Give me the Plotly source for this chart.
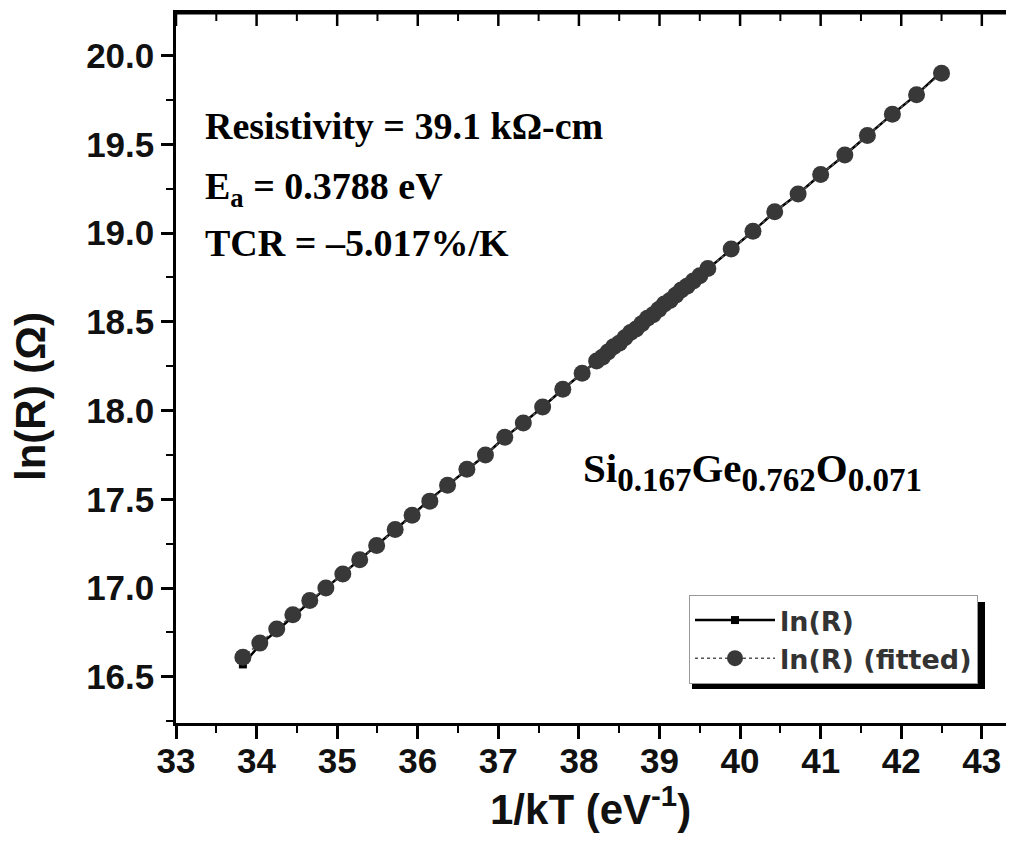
import plotly.graph_objects as go

# 1/kT (eV^-1) values
x_vals = [33.83, 34.04, 34.25, 34.45, 34.66, 34.86, 35.07, 35.28, 35.49, 35.72,
          35.93, 36.15, 36.37, 36.61, 36.84, 37.08, 37.31, 37.55, 37.80, 38.04,
          38.22, 38.29, 38.36, 38.43, 38.50, 38.57, 38.64, 38.71, 38.78, 38.85,
          38.92, 38.99, 39.06, 39.13, 39.20, 39.27, 39.34, 39.42, 39.50,
          39.60, 39.89, 40.16, 40.43, 40.72, 41.00, 41.30, 41.58, 41.89, 42.19, 42.50]

# measured ln(R) (ohm)
ln_r = [16.57, 16.68, 16.76, 16.84, 16.92, 17.00, 17.08, 17.16, 17.24, 17.33,
        17.41, 17.50, 17.58, 17.67, 17.75, 17.85, 17.93, 18.02, 18.12, 18.21,
        18.28, 18.30, 18.33, 18.36, 18.38, 18.41, 18.44, 18.46, 18.49, 18.52,
        18.54, 18.57, 18.60, 18.62, 18.65, 18.68, 18.70, 18.73, 18.76,
        18.80, 18.91, 19.01, 19.12, 19.22, 19.33, 19.44, 19.55, 19.67, 19.78, 19.91]

# fitted ln(R) (ohm)
ln_r_fit = [16.61, 16.69, 16.77, 16.85, 16.93, 17.00, 17.08, 17.16, 17.24, 17.33,
            17.41, 17.49, 17.58, 17.67, 17.75, 17.85, 17.93, 18.02, 18.12, 18.21,
            18.28, 18.30, 18.33, 18.36, 18.38, 18.41, 18.44, 18.46, 18.49, 18.52,
            18.54, 18.57, 18.60, 18.62, 18.65, 18.68, 18.70, 18.73, 18.76,
            18.80, 18.91, 19.01, 19.12, 19.22, 19.33, 19.44, 19.55, 19.67, 19.78, 19.90]

x_ticks = [33, 34, 35, 36, 37, 38, 39, 40, 41, 42, 43]
x_minor_ticks = [33.5, 34.5, 35.5, 36.5, 37.5, 38.5, 39.5, 40.5, 41.5, 42.5]
y_ticks = [16.5, 17.0, 17.5, 18.0, 18.5, 19.0, 19.5, 20.0]
x_range = [33, 43.3]
y_range = [16.24, 20.24]

# page body has an 8px margin: figure is shifted by OFF on screen
OFF = 8
W, H = 998, 832
L, R, T, B = 168, 0, 5, 117
pw, ph = W - L - R, H - T - B

def px(xs):  # screen x -> paper
    return (xs - OFF - L) / pw

def py(ys):  # screen y -> paper
    return (H - B - (ys - OFF)) / ph

sans = "Liberation Sans, Arial, sans-serif"
serif = "Liberation Serif, Times New Roman, serif"
tick_font = dict(family=sans, size=35, color="#111", weight="bold")

fig = go.Figure()
fig.add_trace(go.Scatter(
    x=x_vals, y=ln_r, mode="lines+markers", name="ln(R)",
    line=dict(color="#000", width=2.5),
    marker=dict(symbol="square", size=8, color="#000"),
))
fig.add_trace(go.Scatter(
    x=x_vals, y=ln_r_fit, mode="lines+markers", name="ln(R) (fitted)",
    line=dict(color="#555", width=1.5, dash="dot"),
    marker=dict(symbol="circle", size=17, color="#383838", line=dict(width=0)),
))

axis_common = dict(showline=True, linecolor="#000", linewidth=2.5, showgrid=False,
                   zeroline=False, tickcolor="#000", automargin=False)

fig.update_layout(
    width=W, height=H,
    margin=dict(l=L, r=R, t=T, b=B),
    paper_bgcolor="white", plot_bgcolor="white",
    showlegend=True,
    xaxis=dict(range=x_range, tickvals=x_ticks, ticks="outside", ticklen=13, tickwidth=2.5,
               tickfont=tick_font, mirror=True, ticklabelstandoff=-8,
               minor=dict(tickvals=x_minor_ticks, ticks="outside", ticklen=7, tickwidth=2, tickcolor="#000"),
               **axis_common),
    yaxis=dict(range=y_range, tickvals=y_ticks, tickformat=".1f", ticks="outside", ticklen=12,
               tickwidth=2.5, tickfont=tick_font,
               minor=dict(dtick=0.25, tick0=16.5, ticks="outside", ticklen=7, tickwidth=2, tickcolor="#000"),
               **axis_common),
    legend=dict(x=px(978), xanchor="right", y=py(595), yanchor="top",
                bgcolor="white", bordercolor="#999", borderwidth=1,
                font=dict(family="DejaVu Sans, sans-serif", size=27, color="#333", weight="bold"),
                itemwidth=80, tracegroupgap=0),
)

# top frame line of the plot area
fig.add_shape(type="line", xref="paper", yref="paper", x0=0, x1=1, y0=1, y1=1,
              line=dict(color="#000", width=3), layer="above")

# inward ticks on the top frame, at the same tick values as the bottom axis
for tv in x_ticks:
    fig.add_shape(type="line", xref="x", yref="paper", x0=tv, x1=tv, y0=1, y1=1 - 13 / ph,
                  line=dict(color="#000", width=2.5), layer="above")
for tv in x_minor_ticks:
    fig.add_shape(type="line", xref="x", yref="paper", x0=tv, x1=tv, y0=1, y1=1 - 8 / ph,
                  line=dict(color="#000", width=2), layer="above")

# legend drop shadow
fig.add_shape(type="rect", xref="paper", yref="paper",
              x0=px(692), x1=px(985), y0=py(689), y1=py(602),
              fillcolor="#000", line=dict(width=0), layer="above")

title_font = dict(family=sans, size=42, color="#111", weight="bold")
fig.add_annotation(text="1/kT (eV<sup>-1</sup>)", xref="paper", yref="paper",
                   x=px(590), y=py(806), xanchor="center", yanchor="middle", showarrow=False,
                   font=title_font)
fig.add_annotation(text="ln(R) (Ω)", xref="paper", yref="paper", textangle=-90,
                   x=px(31), y=py(397), xanchor="center", yanchor="middle", showarrow=False,
                   font=title_font)

ann_font = dict(family=serif, size=38, color="#000", weight="bold")
fig.add_annotation(text="Resistivity = 39.1 kΩ-cm", xref="paper", yref="paper",
                   x=px(203), y=py(126), xanchor="left", yanchor="middle", showarrow=False, font=ann_font)
fig.add_annotation(text="E<sub>a</sub> = 0.3788 eV", xref="paper", yref="paper",
                   x=px(203), y=py(189), xanchor="left", yanchor="middle", showarrow=False, font=ann_font)
fig.add_annotation(text="TCR = –5.017%/K", xref="paper", yref="paper",
                   x=px(203), y=py(243), xanchor="left", yanchor="middle", showarrow=False, font=ann_font)
fig.add_annotation(
    text=("Si<sub><span style='font-size:33px'>0.167</span></sub>"
          "Ge<sub><span style='font-size:33px'>0.762</span></sub>"
          "O<sub><span style='font-size:33px'>0.071</span></sub>"),
    xref="paper", yref="paper",
    x=px(581), y=py(471), xanchor="left", yanchor="middle", showarrow=False,
    font=dict(family=serif, size=41, color="#000", weight="bold"))

fig.write_html("out.html")
